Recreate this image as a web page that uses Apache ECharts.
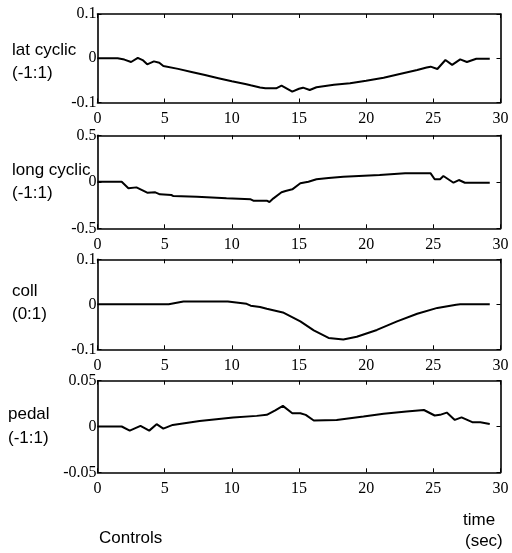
<!DOCTYPE html>
<html><head><meta charset="utf-8">
<script src="https://cdn.jsdelivr.net/npm/echarts@6/dist/echarts.min.js"></script>
<style>html,body{margin:0;padding:0;background:#fff}#c{width:512px;height:553px}</style>
</head><body><div id="c"></div>
<script>
// time ticks
const timeTicks = [0, 5, 10, 15, 20, 25, 30];

// lat cyclic
const latT = [0,1.5,2.0,2.5,3.0,3.4,3.7,4.2,4.6,4.9,6,7,8,9,10,11,11.4,12.1,12.5,13.3,13.7,14.5,15.0,15.3,15.8,16.3,17.6,18.8,20.0,21.3,22.5,23.8,24.5,24.8,25.3,25.9,26.4,27.0,27.5,28.2,29.2];
const latV = [0,0,-0.003,-0.0085,0.001,-0.005,-0.0137,-0.007,-0.01,-0.0175,-0.024,-0.031,-0.038,-0.045,-0.052,-0.058,-0.061,-0.066,-0.068,-0.068,-0.062,-0.0756,-0.069,-0.0665,-0.0718,-0.0656,-0.060,-0.0567,-0.0507,-0.044,-0.0356,-0.0266,-0.021,-0.019,-0.0243,-0.004,-0.015,-0.0024,-0.0085,-0.001,-0.001];

// long cyclic
const longT = [0,1.8,2.3,2.9,3.7,4.3,4.65,5.5,5.65,7.4,7.5,9.6,9.7,11.4,11.6,12.6,12.8,13.1,13.7,14.0,14.5,15.1,15.7,16.3,17.2,18.3,21.0,22.9,24.8,25.1,25.5,25.75,26.5,26.9,27.35,29.2];
const longV = [0,0,-0.07,-0.06,-0.117,-0.113,-0.135,-0.142,-0.153,-0.16,-0.171,-0.178,-0.188,-0.188,-0.203,-0.203,-0.217,-0.178,-0.113,-0.099,-0.081,-0.016,0.001,0.027,0.041,0.055,0.073,0.091,0.091,0.027,0.027,0.062,-0.01,0.019,-0.01,-0.01];

// coll
const collT = [0,5.3,6.4,9.7,11.1,11.4,12.1,12.6,13.8,15.1,16.1,17.2,18.3,19.3,20.8,22.3,23.8,25.3,26.7,27.0,29.2];
const collV = [0,0,0.006,0.006,0.001,-0.003,-0.006,-0.010,-0.018,-0.038,-0.058,-0.0747,-0.078,-0.072,-0.057,-0.038,-0.021,-0.008,-0.001,0,0];

// pedal
const pedalT = [0,1.8,2.4,3.2,3.85,4.4,4.9,5.6,7.6,10.1,11.85,12.6,13.2,13.8,14.5,15.1,15.5,16.1,17.8,19.8,21.3,23.0,24.3,25.1,25.5,26.0,26.6,27.1,27.9,28.5,29.2];
const pedalV = [0,0,-0.0045,0.0007,-0.0045,0.0025,-0.0023,0.0017,0.006,0.0097,0.0116,0.0127,0.0174,0.0225,0.0145,0.0145,0.0127,0.0065,0.0072,0.0108,0.0138,0.0163,0.018,0.012,0.0127,0.0152,0.0072,0.01,0.0047,0.0047,0.0028];

// y ranges per panel
const yLimits = [0.1, 0.5, 0.1, 0.05];
const panelNames = [["lat cyclic","(-1:1)"],["long cyclic","(-1:1)"],["coll","(0:1)"],["pedal","(-1:1)"]];
const panelT = [latT, longT, collT, pedalT];
const panelV = [latV, longV, collV, pedalV];

const grids = [
  {left:97.5, right:11.5, top:14, height:88.5},
  {left:97.5, right:11.5, top:135.3, height:93},
  {left:97.5, right:11.5, top:259.3, height:90},
  {left:97.5, right:11.5, top:380.7, height:91.6}
];
const serif = 'Liberation Serif';
const axisLineStyle = {color:'#000', width:1.6};
const tickStyle = {color:'#000', width:1};
const xAxes = [], yAxes = [], series = [];
grids.forEach((g, i) => {
  xAxes.push({gridIndex:i, type:'value', min:timeTicks[0], max:timeTicks[timeTicks.length-1], interval:5, position:'bottom',
    axisLine:{onZero:false, lineStyle:axisLineStyle}, axisTick:{inside:true, length:4, lineStyle:tickStyle},
    axisLabel:{color:'#000', fontFamily:serif, fontSize:16, margin:8}, splitLine:{show:false}});
  xAxes.push({gridIndex:i, type:'value', min:0, max:30, interval:5, position:'top',
    axisLine:{onZero:false, lineStyle:axisLineStyle}, axisTick:{inside:true, length:4, lineStyle:tickStyle},
    axisLabel:{show:false}, splitLine:{show:false}});
  const L = yLimits[i];
  yAxes.push({gridIndex:i, type:'value', min:-L, max:L, interval:L, position:'left',
    axisLine:{onZero:false, lineStyle:axisLineStyle}, axisTick:{inside:true, length:4, lineStyle:tickStyle},
    axisLabel:{color:'#000', fontFamily:serif, fontSize:16, margin:1,
      formatter: v => Math.abs(v) < 1e-9 ? '0' : String(+v.toFixed(3))}, splitLine:{show:false}});
  yAxes.push({gridIndex:i, type:'value', min:-L, max:L, interval:L, position:'right',
    axisLine:{onZero:false, lineStyle:axisLineStyle}, axisTick:{inside:true, length:4, lineStyle:tickStyle},
    axisLabel:{show:false}, splitLine:{show:false}});
  series.push({type:'line', xAxisIndex:2*i, yAxisIndex:2*i, showSymbol:false, symbol:'none',
    lineStyle:{color:'#000', width:2}, animation:false,
    data: panelT[i].map((t, k) => [t, panelV[i][k]])});
});

const labelPos = [[12,51.5,75],[12,171.7,195],[12,293.3,315.5],[8,416,440]];
const graphic = [];
panelNames.forEach((n, i) => {
  const [x, y1, y2] = labelPos[i];
  graphic.push({type:'text', left:x, top:y1-10, style:{text:n[0], font:'17px "Liberation Sans"', fill:'#000'}});
  graphic.push({type:'text', left:x, top:y2-10, style:{text:n[1], font:'17px "Liberation Sans"', fill:'#000'}});
});
graphic.push({type:'text', left:99, top:530, style:{text:'Controls', font:'17px "Liberation Sans"', fill:'#000'}});
graphic.push({type:'text', left:463, top:512, style:{text:'time', font:'17px "Liberation Sans"', fill:'#000'}});
graphic.push({type:'text', left:465, top:533, style:{text:'(sec)', font:'17px "Liberation Sans"', fill:'#000'}});

const chart = echarts.init(document.getElementById('c'), null, {renderer:'canvas'});
chart.setOption({animation:false, backgroundColor:'#fff', grid:grids, xAxis:xAxes, yAxis:yAxes, series, graphic});
</script></body></html>
